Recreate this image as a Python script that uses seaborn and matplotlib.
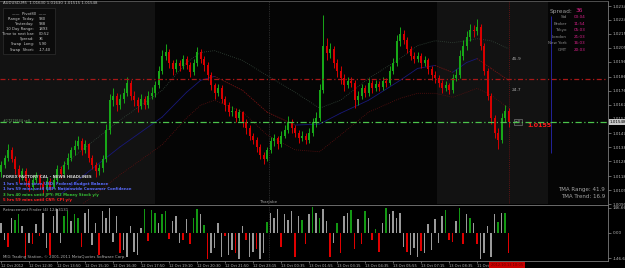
import numpy as np
import pandas as pd
import matplotlib
matplotlib.use("Agg")
import matplotlib.pyplot as plt
import seaborn as sns
from matplotlib.patches import Rectangle

# ---------------- data ----------------
first_open = 1.0121
closes = [1.0126,1.0131,1.0136,1.0130,1.0123,1.0118,1.0122,1.0115,1.0111,1.0116,
          1.0119,1.0113,1.0110,1.0115,1.0111,1.0116,1.0123,1.0120,1.0126,1.0131,
          1.0136,1.0139,1.0142,1.0136,1.0140,1.0131,1.0126,1.0122,1.0124,1.0130,
          1.0150,1.0170,1.0173,1.0167,1.0171,1.0175,1.0182,1.0173,1.0170,1.0166,
          1.0171,1.0167,1.0173,1.0175,1.0180,1.0190,1.0200,1.0203,1.0195,1.0191,
          1.0195,1.0193,1.0198,1.0194,1.0189,1.0195,1.0203,1.0198,1.0194,1.0187,
          1.0180,1.0175,1.0178,1.0171,1.0167,1.0162,1.0163,1.0158,1.0162,1.0155,
          1.0151,1.0146,1.0143,1.0138,1.0133,1.0130,1.0136,1.0142,1.0144,1.0140,
          1.0146,1.0150,1.0155,1.0151,1.0148,1.0144,1.0146,1.0143,1.0148,1.0155,
          1.0158,1.0177,1.0207,1.0202,1.0205,1.0195,1.0190,1.0185,1.0180,1.0183,
          1.0182,1.0170,1.0173,1.0178,1.0175,1.0182,1.0178,1.0181,1.0179,1.0183,
          1.0182,1.0190,1.0195,1.0210,1.0215,1.0211,1.0205,1.0200,1.0198,1.0200,
          1.0195,1.0197,1.0191,1.0187,1.0185,1.0182,1.0178,1.0180,1.0177,1.0185,
          1.0187,1.0200,1.0207,1.0213,1.0218,1.0217,1.0220,1.0207,1.0190,1.0173,
          1.0158,1.0148,1.0143,1.0158,1.0163,1.0155]
highs = [1.0129,1.0133,1.0140,1.0138,1.0132,1.0126,1.0124,1.0124,1.0117,1.0119,
         1.0121,1.0120,1.0115,1.0118,1.0117,1.0119,1.0126,1.0125,1.0129,1.0134,
         1.0138,1.0143,1.0146,1.0144,1.0143,1.0141,1.0133,1.0128,1.0127,1.0133,
         1.0154,1.0174,1.0178,1.0175,1.0174,1.0178,1.0186,1.0184,1.0176,1.0172,
         1.0174,1.0173,1.0176,1.0179,1.0183,1.0193,1.0204,1.0208,1.0205,1.0197,
         1.0198,1.0197,1.0201,1.0200,1.0196,1.0198,1.0206,1.0205,1.0200,1.0196,
         1.0189,1.0182,1.0181,1.0180,1.0173,1.0169,1.0166,1.0165,1.0164,1.0163,
         1.0157,1.0153,1.0148,1.0145,1.0140,1.0135,1.0138,1.0145,1.0147,1.0146,
         1.0149,1.0153,1.0159,1.0157,1.0153,1.0150,1.0149,1.0148,1.0151,1.0158,
         1.0162,1.0181,1.0228,1.0212,1.0209,1.0207,1.0198,1.0193,1.0188,1.0186,
         1.0186,1.0184,1.0176,1.0181,1.0180,1.0185,1.0184,1.0184,1.0183,1.0186,
         1.0185,1.0193,1.0199,1.0214,1.0220,1.0218,1.0213,1.0207,1.0203,1.0203,
         1.0202,1.0200,1.0199,1.0193,1.0190,1.0187,1.0184,1.0183,1.0182,1.0188,
         1.0191,1.0204,1.0211,1.0217,1.0222,1.0221,1.0225,1.0222,1.0209,1.0192,
         1.0175,1.0160,1.0151,1.0161,1.0167,1.0165]
lows = [1.0118,1.0124,1.0129,1.0128,1.0120,1.0114,1.0116,1.0112,1.0108,1.0109,
        1.0114,1.0110,1.0106,1.0108,1.0109,1.0110,1.0114,1.0117,1.0118,1.0123,
        1.0129,1.0133,1.0137,1.0133,1.0134,1.0128,1.0123,1.0118,1.0119,1.0121,
        1.0128,1.0147,1.0166,1.0163,1.0164,1.0168,1.0173,1.0170,1.0166,1.0162,
        1.0164,1.0164,1.0165,1.0171,1.0172,1.0178,1.0188,1.0197,1.0192,1.0187,
        1.0189,1.0190,1.0191,1.0191,1.0186,1.0187,1.0193,1.0195,1.0190,1.0184,
        1.0177,1.0171,1.0173,1.0168,1.0163,1.0159,1.0159,1.0155,1.0156,1.0152,
        1.0147,1.0143,1.0140,1.0135,1.0130,1.0127,1.0129,1.0134,1.0139,1.0137,
        1.0138,1.0144,1.0148,1.0148,1.0145,1.0141,1.0142,1.0140,1.0141,1.0146,
        1.0152,1.0156,1.0175,1.0197,1.0199,1.0192,1.0186,1.0181,1.0176,1.0178,
        1.0179,1.0165,1.0167,1.0171,1.0172,1.0173,1.0175,1.0176,1.0176,1.0177,
        1.0179,1.0180,1.0188,1.0193,1.0207,1.0208,1.0202,1.0197,1.0195,1.0196,
        1.0192,1.0193,1.0188,1.0184,1.0182,1.0179,1.0175,1.0176,1.0174,1.0175,
        1.0183,1.0185,1.0197,1.0204,1.0210,1.0213,1.0214,1.0204,1.0187,1.0170,
        1.0154,1.0144,1.0137,1.0141,1.0155,1.0152]

hist_vals = [60,-40,-83,90,75,110,40,-140,-60,-63,
             50,-20,120,-90,-130,100,140,-60,100,130,
             70,110,90,-83,120,140,-70,60,-130,130,
             90,145,-50,100,-120,-100,-140,40,-110,-130,
             30,140,-45,135,120,60,110,130,-35,70,
             100,-60,-43,80,-63,90,140,110,45,-150,
             -120,-90,60,-140,-20,-130,-100,-120,-150,40,
             -43,-140,-110,-93,-150,-120,65,120,90,140,
             -83,110,75,130,-142,100,75,-63,110,150,
             120,90,140,70,-142,-60,60,-120,100,120,
             135,-93,80,-63,126,90,-43,25,-112,60,
             144,110,130,90,120,-80,-112,-130,-90,-140,
             -103,-120,50,-100,80,-60,100,135,-43,-53,
             70,144,-63,110,90,60,-63,-150,-120,40,
             -140,110,65,120,115,-120]
hist_state = list("nnrnggnrnr" "nrnnrnnngg" "nggrnnnnrn" "nnnnrnnnnn" "ngrggnggrn"
                  "nnrnrggngr" "nnnnrnnrnn" "rnnrnngnnn" "rnnnrngrng" "ngnnrngrnn"
                  "grnrgnrgrn" "gnnnnnrnnn" "rnnnnnngrr" "ngrngnrnnn" "nngngr")

tma_x = [17, 25, 34, 46, 53, 57, 61, 69, 76, 84, 91, 97, 105, 114, 119, 124, 129, 133, 136, 140, 145]
tma_mid = [1.01060,1.01215,1.01383,1.01585,1.01754,1.01835,1.01862,1.01767,1.01619,1.01531,
           1.01538,1.01612,1.01700,1.01835,1.01916,1.01936,1.01889,1.01956,1.01983,1.01916,1.01835]
tma_up = [1.01242,1.01397,1.01565,1.01767,1.01956,1.02024,1.02037,1.01970,1.01868,1.01754,
          1.01646,1.01700,1.01848,1.01983,1.02071,1.02104,1.02091,1.02104,1.02118,1.02104,1.02050]
tma_dn = [1.00878,1.01026,1.01194,1.01397,1.01579,1.01666,1.01700,1.01619,1.01464,1.01363,
          1.01350,1.01464,1.01619,1.01713,1.01747,1.01747,1.01720,1.01754,1.01781,1.01734,1.01646]

price_ticks = [1.02340,1.02245,1.02150,1.02055,1.01960,1.01860,1.01765,1.01670,
               1.01575,1.01475,1.01380,1.01285,1.01185,1.01090,1.00995]
hist_ticks = [146.668, 0.0, -146.668]
hist_tick_labels = ["146.668", "0.00", "-146.668"]
time_pos = [0, 8, 16, 24, 32, 40, 48, 56, 64, 72, 80, 88, 96, 104, 112, 120, 128, 136]
time_labels = ["12 Oct 2012", "12 Oct 12:30", "12 Oct 13:50", "12 Oct 15:10", "12 Oct 16:30",
               "12 Oct 17:50", "12 Oct 19:10", "12 Oct 20:30", "12 Oct 21:50", "12 Oct 23:15",
               "13 Oct 00:35", "13 Oct 01:55", "13 Oct 03:15", "13 Oct 04:35", "13 Oct 05:55",
               "13 Oct 07:15", "13 Oct 08:35", "11 Oct"]

level_red = 1.01845
level_green = 1.01550
current_price = "1.0155"
bid_label = "1.01548"
marker_vals = [("45.9", 1.01983), ("24.7", 1.01767)]
session_line = 76.5
current_bar = 145
blue_line = (157, 1.01343, 1.02273)
shade_spans = [(-0.3, 44.0), (124.6, 156.3)]

# ---------------- figure ----------------
sns.set_theme(style="dark", rc={"axes.grid": False})
plt.rcParams['font.family'] = ['DejaVu Sans']
W, H = 625, 268
fig = plt.figure(figsize=(W / 100, H / 100), dpi=100, facecolor="#000000")
ax = fig.add_axes([0, 1 - 204 / H, 608 / W, 203 / H])
ax2 = fig.add_axes([0, 1 - 261 / H, 608 / W, 56 / H])
for a in (ax, ax2):
    a.set_facecolor("#050505")
    for s in a.spines.values():
        s.set_visible(False)
ax2.set_facecolor("#000000")

GREEN, RED = "#18a818", "#d80000"
idx = np.arange(len(closes))
c = np.array(closes)
o = np.array([first_open] + closes[:-1])
col = np.where(c >= o, GREEN, RED)

for a0, a1 in shade_spans:
    ax.axvspan(a0, a1, color="#121212", zorder=0, lw=0)

ax.vlines(idx, lows, highs, colors=col, lw=0.7, zorder=3)
ax.bar(idx, np.maximum(np.abs(c - o), 0.00003), bottom=np.minimum(o, c), width=0.6,
       color=col, linewidth=0, zorder=3)

sns.lineplot(x=tma_x, y=tma_up, ax=ax, color="#34463a", lw=0.6, linestyle=(0, (1, 1.5)),
             sort=False, estimator=None, zorder=2)
sns.lineplot(x=tma_x, y=tma_dn, ax=ax, color="#5e1010", lw=0.6, linestyle=(0, (1, 1.5)),
             sort=False, estimator=None, zorder=2)
for j in range(len(tma_x) - 1):
    rising = tma_mid[j + 1] >= tma_mid[j]
    ax.plot(tma_x[j:j + 2], tma_mid[j:j + 2], color="#181878" if rising else "#7c1212",
            lw=0.6, ls="-" if rising else (0, (1.5, 1.2)), zorder=2)

ax.axhline(level_red, color="#a81818", lw=0.9, linestyle=(0, (4, 2, 1, 2)), zorder=4)
ax.axhline(level_green, color="#4cc44c", lw=0.9, linestyle=(0, (5, 2, 1, 2)), zorder=4)
ax.axvline(session_line, color="#4a4a4a", lw=0.5, ls=(0, (1, 1.5)), zorder=1)
ax2.axvline(session_line, color="#4a4a4a", lw=0.5, ls=(0, (1, 1.5)), zorder=1)
ax.axvline(current_bar, color="#7a1414", lw=0.6, ls=(0, (1, 1.5)), zorder=1)
ax.vlines(blue_line[0], blue_line[1], blue_line[2], color="#22229a", lw=0.7, zorder=2)

for txt, yv in marker_vals:
    ax.text(current_bar + 0.8, yv, txt, color="#a8a8a8", fontsize=3.2, va="center")
ax.text(150.3, level_green - 0.0002, current_price, color="#ff1a1a", fontsize=4.6,
        fontweight="bold", va="center")
ax.text(146.9, level_green + 0.00003, "sell", color="#b0b0b0", fontsize=2.4, va="center",
        bbox=dict(facecolor="#1c1c1c", edgecolor="#8a8a8a", lw=0.4, pad=0.6))

ax.set_xlim(-0.3, 173.4)
ax.set_ylim(1.01000, 1.02374)
ax.set_xticks([])
ax.yaxis.tick_right()
ax.set_yticks(price_ticks)
ax.set_yticklabels([f"{v:.5f}" for v in price_ticks])
ax.tick_params(axis="y", right=True, labelsize=3, colors="#b4b4b4", length=2, width=0.4, pad=1.5)
ax.spines["right"].set_visible(True)
ax.spines["right"].set_color("#7c7c7c")
ax.spines["right"].set_linewidth(0.6)
ax.spines["top"].set_visible(True)
ax.spines["top"].set_color("#5a5a5a")
ax.spines["top"].set_linewidth(0.6)

# ---------------- sub panel ----------------
hx = np.arange(len(hist_vals))
hdf = pd.DataFrame({"x": hx, "v": hist_vals, "s": hist_state})
sns.barplot(data=hdf, x="x", y="v", hue="s", palette={"n": "#9a9a9a", "g": "#139813", "r": "#e00000"},
            dodge=False, native_scale=True, width=0.42, errorbar=None, legend=False,
            saturation=1, linewidth=0, ax=ax2)
ax2.set_xlim(-0.3, 173.4)
ax2.set_ylim(-164, 164)
ax2.set_xlabel("")
ax2.set_ylabel("")
ax2.yaxis.tick_right()
ax2.set_yticks(hist_ticks)
ax2.set_yticklabels(hist_tick_labels)
ax2.set_xticks(time_pos)
ax2.set_xticklabels(time_labels, ha="left")
ax2.tick_params(axis="y", right=True, labelsize=3, colors="#b4b4b4", length=2, width=0.4, pad=1.5)
ax2.tick_params(axis="x", bottom=True, labelsize=2.6, colors="#b4b4b4", length=1.5, width=0.4, pad=1)
for s in ("top", "right", "bottom"):
    ax2.spines[s].set_visible(True)
    ax2.spines[s].set_color("#7c7c7c")
    ax2.spines[s].set_linewidth(0.6)

# ---------------- text overlays ----------------
def T(x, y, s, **kw):
    kw.setdefault("va", "center")
    kw.setdefault("fontsize", 3)
    kw.setdefault("color", "#c8c8c8")
    kw.setdefault("zorder", 10)
    return fig.text(x / W, 1 - y / H, s, **kw)

T(3, 3.5, "AUDUSD,M5  1.01630 1.01630 1.01515 1.01548", fontsize=2.8, color="#c0c0c0")
fig.add_artist(Rectangle((3 / W, 1 - 54 / H), 52 / W, 46 / H, transform=fig.transFigure,
                         facecolor="#0b0b0b", edgecolor="#2e2e2e", lw=0.5, zorder=9))
T(29, 14.3, "——  Pivot80  ——", ha="center", fontsize=2.7)
info_rows = [("Range  Today:", "980"), ("Yesterday:", "988"), ("10 Day Range:", "1893"),
             ("Time to next bar:", "00:52"), ("Spread:", "36"), ("Swap  Long:", "5.90"),
             ("Swap  Short:", "-17.40")]
for k, (lab, val) in enumerate(info_rows):
    yy = 19.3 + 5 * k + (0.8 if k == 6 else 0)
    T(34, yy, lab, ha="right", fontsize=2.7)
    T(39, yy, val, ha="left", fontsize=2.7)

T(550, 11, "Spread:", fontsize=4.2, color="#9c9c9c")
T(575, 11, "36", fontsize=4.2, color="#e0208c")
clock_rows = [("Sid", "00:04"), ("Broker", "11:54"), ("Tokyo", "05:03"), ("London", "21:03"),
              ("New York", "16:03"), ("GMT", "20:03")]
for k, (lab, val) in enumerate(clock_rows):
    yy = 17 + 6.6 * k
    T(567, yy, lab, ha="right", fontsize=3, color="#8c8c8c")
    T(574, yy, val, ha="left", fontsize=3, color="#d8208a")

T(605, 190, "TMA Range: 41.9", ha="right", fontsize=4, color="#a4a4a4")
T(605, 197, "TMA Trend: 16.9", ha="right", fontsize=4, color="#a4a4a4")
T(3, 120.5, "#17219544 sell", fontsize=2.4, color="#6a9a6a")

T(3, 177, "FOREX FACTORY CAL - NEWS HEADLINES", fontsize=2.8, color="#d0d0d0", fontweight="bold")
news = [("1 hrs 5 mins since USD: Federal Budget Balance", "#5a6cff"),
        ("1 hrs 59 mins until GBP: Nationwide Consumer Confidence", "#5a6cff"),
        ("3 hrs 40 mins until JPY: M2 Money Stock y/y", "#34c034"),
        ("5 hrs 59 mins until CNY: CPI y/y", "#ff2020")]
for k, (s, cl) in enumerate(news):
    T(3, 184 + 5.4 * k, s, fontsize=2.8, color=cl, fontweight="bold")

T(268, 202, "Tharjabe", ha="center", fontsize=3, color="#9a9a9a")
T(3, 210, "Retracement Finder (4) 124.3131", fontsize=2.8, color="#b0b0b0")
T(3, 257, "MIG Trading Station, © 2001-2011 MetaQuotes Software Corp.", fontsize=2.8, color="#b0b0b0")

T(610, 122, bid_label, fontsize=3, color="#000000",
  bbox=dict(facecolor="#c8c8c8", edgecolor="none", pad=0.4))
fig.add_artist(Rectangle((489 / W, 0), 36 / W, 6.5 / H, transform=fig.transFigure,
                         facecolor="#c80000", edgecolor="none", zorder=11))
T(507, 265, "2012.10.13 10:05", ha="center", fontsize=2.6, color="#6a0000", zorder=12)

fig.savefig("out.png", dpi=100, facecolor="#000000")
